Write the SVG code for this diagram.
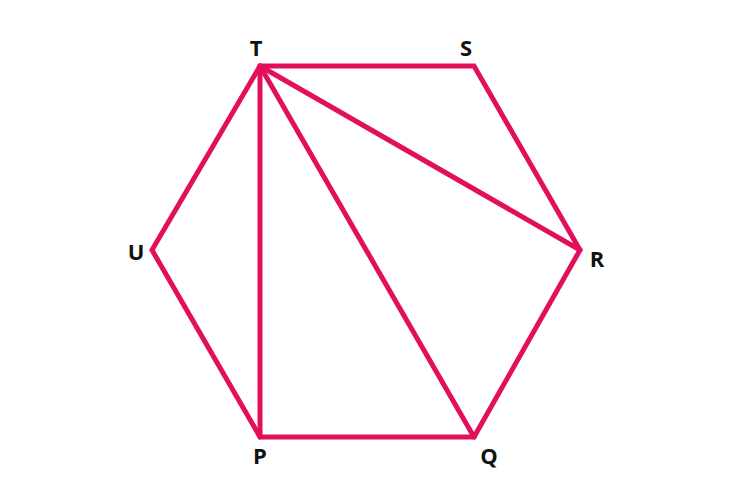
<svg xmlns="http://www.w3.org/2000/svg" width="750" height="480" viewBox="0 0 750 480">
<style>
.e{stroke:#e2105c;stroke-width:5;fill:none;stroke-linejoin:miter;stroke-linecap:round}
.l{font-family:"Open Sans","Liberation Sans",sans-serif;font-weight:bold;font-size:22px;fill:#111;text-anchor:middle}
</style>
<rect width="750" height="480" fill="#fff"/>
<g id="connectors">
<polygon class="e" points="260,66 474,66 580,250 474,437 260,437 152,250"/>
<line class="e" x1="260" y1="66" x2="260" y2="437"/>
<line class="e" x1="260" y1="66" x2="474" y2="437"/>
<line class="e" x1="260" y1="66" x2="580" y2="250"/>
</g>
<g id="T"><text class="l" x="256" y="56">T</text></g>
<g id="S"><text class="l" x="466" y="56">S</text></g>
<g id="R"><text class="l" x="597" y="267">R</text></g>
<g id="Q"><text class="l" x="489" y="464">Q</text></g>
<g id="P"><text class="l" x="260" y="464">P</text></g>
<g id="U"><text class="l" x="136" y="260">U</text></g>
</svg>
